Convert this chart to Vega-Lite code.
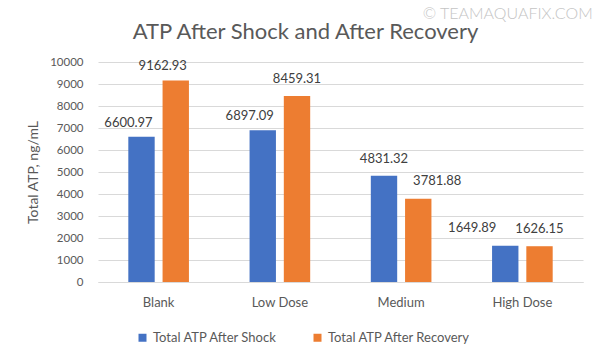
{
  "$schema": "https://vega.github.io/schema/vega-lite/v6.json",
  "width": 485,
  "height": 220,
  "autosize": {"type": "none"},
  "padding": {"left": 98, "top": 62, "right": 18, "bottom": 78},
  "background": "white",
  "title": {
    "text": "ATP After Shock and After Recovery",
    "fontSize": 22,
    "fontWeight": "normal",
    "color": "#595959",
    "anchor": "middle",
    "frame": "group",
    "dx": -35,
    "offset": -38
  },
  "datasets": {
    "atp": [
      {"group": "Blank", "series": "Total ATP After Shock", "value": 6600.97},
      {"group": "Blank", "series": "Total ATP After Recovery", "value": 9162.93},
      {"group": "Low Dose", "series": "Total ATP After Shock", "value": 6897.09},
      {"group": "Low Dose", "series": "Total ATP After Recovery", "value": 8459.31},
      {"group": "Medium", "series": "Total ATP After Shock", "value": 4831.32},
      {"group": "Medium", "series": "Total ATP After Recovery", "value": 3781.88},
      {"group": "High Dose", "series": "Total ATP After Shock", "value": 1649.89},
      {"group": "High Dose", "series": "Total ATP After Recovery", "value": 1626.15}
    ],
    "watermark": [
      {"label": "© TEAMAQUAFIX.COM"}
    ]
  },
  "layer": [
    {
      "data": {"name": "atp"},
      "mark": {"type": "bar"},
      "encoding": {
        "x": {"field": "group", "type": "nominal", "sort": ["Blank", "Low Dose", "Medium", "High Dose"], "scale": {"paddingInner": 0.5, "paddingOuter": 0.25}, "axis": {"title": null, "labelAngle": 0, "ticks": false, "domainColor": "#d9d9d9", "labelColor": "#595959", "labelFontSize": 13, "labelPadding": 14, "grid": false}},
        "y": {"field": "value", "type": "quantitative", "scale": {"domain": [0, 10000], "nice": false}, "axis": {"title": "Total ATP,  ng/mL", "values": [0, 1000, 2000, 3000, 4000, 5000, 6000, 7000, 8000, 9000, 10000], "format": "d", "domain": false, "ticks": false, "gridColor": "#d9d9d9", "labelColor": "#595959", "labelFontSize": 11.5, "labelPadding": 15, "titleColor": "#595959", "titleFontSize": 14, "titleFontWeight": "normal", "titlePadding": 9}},
        "xOffset": {"field": "series", "type": "nominal", "sort": ["Total ATP After Shock", "Total ATP After Recovery"], "scale": {"paddingInner": 0.23, "paddingOuter": 0}},
        "color": {
          "field": "series",
          "type": "nominal",
          "sort": ["Total ATP After Shock", "Total ATP After Recovery"],
          "scale": {"range": ["#4472C4", "#ED7D31"]},
          "legend": {
            "title": null,
            "orient": "none",
            "direction": "horizontal",
            "legendX": 38,
            "legendY": 269,
            "symbolType": "square",
            "symbolSize": 64,
            "symbolStrokeWidth": 0,
            "labelFontSize": 13,
            "labelColor": "#595959",
            "labelOffset": 4,
            "columnPadding": 33
          }
        }
      }
    },
    {
      "data": {"name": "atp"},
      "transform": [{"filter": "(datum.series == 'Total ATP After Shock' && datum.group == 'Medium') || (datum.series == 'Total ATP After Recovery' && (datum.group == 'Low Dose' || datum.group == 'High Dose'))"}],
      "mark": {"type": "text", "baseline": "middle", "dy": -17, "fontSize": 13, "color": "#404040"},
      "encoding": {
        "x": {"field": "group", "type": "nominal", "sort": ["Blank", "Low Dose", "Medium", "High Dose"], "scale": {"paddingInner": 0.5, "paddingOuter": 0.25}, "axis": {"title": null, "labelAngle": 0, "ticks": false, "domainColor": "#d9d9d9", "labelColor": "#595959", "labelFontSize": 13, "labelPadding": 14, "grid": false}},
        "y": {"field": "value", "type": "quantitative", "scale": {"domain": [0, 10000], "nice": false}, "axis": {"title": "Total ATP,  ng/mL", "values": [0, 1000, 2000, 3000, 4000, 5000, 6000, 7000, 8000, 9000, 10000], "format": "d", "domain": false, "ticks": false, "gridColor": "#d9d9d9", "labelColor": "#595959", "labelFontSize": 11.5, "labelPadding": 15, "titleColor": "#595959", "titleFontSize": 14, "titleFontWeight": "normal", "titlePadding": 9}},
        "xOffset": {"field": "series", "type": "nominal", "sort": ["Total ATP After Shock", "Total ATP After Recovery"], "scale": {"paddingInner": 0.23, "paddingOuter": 0}},
        "text": {"field": "value", "type": "quantitative", "format": ".2f"}
      }
    },
    {
      "data": {"name": "atp"},
      "transform": [{"filter": "(datum.series == 'Total ATP After Shock' && (datum.group == 'Blank' || datum.group == 'Low Dose')) || (datum.series == 'Total ATP After Recovery' && datum.group == 'Blank')"}],
      "mark": {"type": "text", "baseline": "middle", "dy": -14, "dx": -13, "fontSize": 13, "color": "#404040"},
      "encoding": {
        "x": {"field": "group", "type": "nominal", "sort": ["Blank", "Low Dose", "Medium", "High Dose"], "scale": {"paddingInner": 0.5, "paddingOuter": 0.25}, "axis": {"title": null, "labelAngle": 0, "ticks": false, "domainColor": "#d9d9d9", "labelColor": "#595959", "labelFontSize": 13, "labelPadding": 14, "grid": false}},
        "y": {"field": "value", "type": "quantitative", "scale": {"domain": [0, 10000], "nice": false}, "axis": {"title": "Total ATP,  ng/mL", "values": [0, 1000, 2000, 3000, 4000, 5000, 6000, 7000, 8000, 9000, 10000], "format": "d", "domain": false, "ticks": false, "gridColor": "#d9d9d9", "labelColor": "#595959", "labelFontSize": 11.5, "labelPadding": 15, "titleColor": "#595959", "titleFontSize": 14, "titleFontWeight": "normal", "titlePadding": 9}},
        "xOffset": {"field": "series", "type": "nominal", "sort": ["Total ATP After Shock", "Total ATP After Recovery"], "scale": {"paddingInner": 0.23, "paddingOuter": 0}},
        "text": {"field": "value", "type": "quantitative", "format": ".2f"}
      }
    },
    {
      "data": {"name": "atp"},
      "transform": [{"filter": "datum.series == 'Total ATP After Shock' && datum.group == 'High Dose'"}],
      "mark": {"type": "text", "baseline": "middle", "dy": -18, "dx": -33, "fontSize": 13, "color": "#404040"},
      "encoding": {
        "x": {"field": "group", "type": "nominal", "sort": ["Blank", "Low Dose", "Medium", "High Dose"], "scale": {"paddingInner": 0.5, "paddingOuter": 0.25}, "axis": {"title": null, "labelAngle": 0, "ticks": false, "domainColor": "#d9d9d9", "labelColor": "#595959", "labelFontSize": 13, "labelPadding": 14, "grid": false}},
        "y": {"field": "value", "type": "quantitative", "scale": {"domain": [0, 10000], "nice": false}, "axis": {"title": "Total ATP,  ng/mL", "values": [0, 1000, 2000, 3000, 4000, 5000, 6000, 7000, 8000, 9000, 10000], "format": "d", "domain": false, "ticks": false, "gridColor": "#d9d9d9", "labelColor": "#595959", "labelFontSize": 11.5, "labelPadding": 15, "titleColor": "#595959", "titleFontSize": 14, "titleFontWeight": "normal", "titlePadding": 9}},
        "xOffset": {"field": "series", "type": "nominal", "sort": ["Total ATP After Shock", "Total ATP After Recovery"], "scale": {"paddingInner": 0.23, "paddingOuter": 0}},
        "text": {"field": "value", "type": "quantitative", "format": ".2f"}
      }
    },
    {
      "data": {"name": "atp"},
      "transform": [{"filter": "datum.series == 'Total ATP After Recovery' && datum.group == 'Medium'"}],
      "mark": {"type": "text", "baseline": "middle", "dy": -18, "dx": 19, "fontSize": 13, "color": "#404040"},
      "encoding": {
        "x": {"field": "group", "type": "nominal", "sort": ["Blank", "Low Dose", "Medium", "High Dose"], "scale": {"paddingInner": 0.5, "paddingOuter": 0.25}, "axis": {"title": null, "labelAngle": 0, "ticks": false, "domainColor": "#d9d9d9", "labelColor": "#595959", "labelFontSize": 13, "labelPadding": 14, "grid": false}},
        "y": {"field": "value", "type": "quantitative", "scale": {"domain": [0, 10000], "nice": false}, "axis": {"title": "Total ATP,  ng/mL", "values": [0, 1000, 2000, 3000, 4000, 5000, 6000, 7000, 8000, 9000, 10000], "format": "d", "domain": false, "ticks": false, "gridColor": "#d9d9d9", "labelColor": "#595959", "labelFontSize": 11.5, "labelPadding": 15, "titleColor": "#595959", "titleFontSize": 14, "titleFontWeight": "normal", "titlePadding": 9}},
        "xOffset": {"field": "series", "type": "nominal", "sort": ["Total ATP After Shock", "Total ATP After Recovery"], "scale": {"paddingInner": 0.23, "paddingOuter": 0}},
        "text": {"field": "value", "type": "quantitative", "format": ".2f"}
      }
    },
    {
      "data": {"name": "watermark"},
      "mark": {"type": "text", "align": "right", "baseline": "middle", "fontSize": 16, "fontWeight": 300, "color": "#c4c4c4", "dx": 40, "clip": false},
      "encoding": {
        "x": {"datum": "High Dose", "bandPosition": 1, "type": "nominal", "scale": {"paddingInner": 0.5, "paddingOuter": 0.25}, "axis": {"title": null, "labelAngle": 0, "ticks": false, "domainColor": "#d9d9d9", "labelColor": "#595959", "labelFontSize": 13, "labelPadding": 14, "grid": false}},
        "y": {"datum": 12200, "type": "quantitative", "scale": {"domain": [0, 10000], "nice": false}, "axis": {"title": "Total ATP,  ng/mL", "values": [0, 1000, 2000, 3000, 4000, 5000, 6000, 7000, 8000, 9000, 10000], "format": "d", "domain": false, "ticks": false, "gridColor": "#d9d9d9", "labelColor": "#595959", "labelFontSize": 11.5, "labelPadding": 15, "titleColor": "#595959", "titleFontSize": 14, "titleFontWeight": "normal", "titlePadding": 9}},
        "text": {"field": "label", "type": "nominal"}
      }
    }
  ],
  "config": {
    "font": "Lato",
    "view": {"stroke": null}
  }
}
